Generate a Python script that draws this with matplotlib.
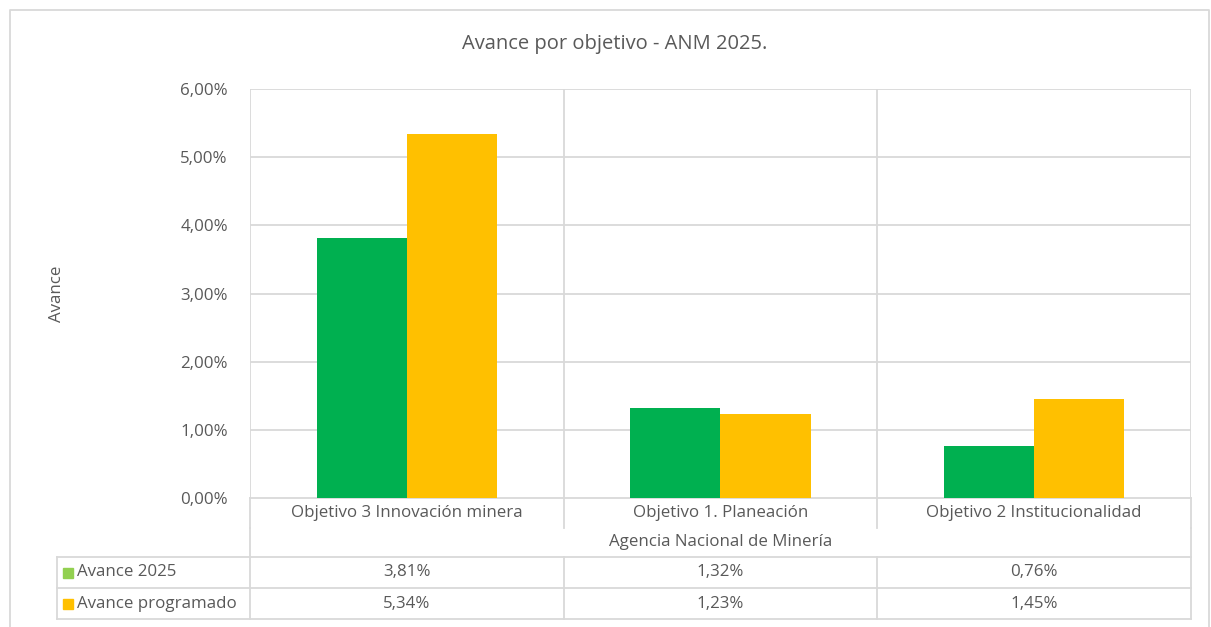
import numpy as np
import matplotlib.pyplot as plt

categorias = ['Objetivo 3 Innovación minera', 'Objetivo 1. Planeación', 'Objetivo 2 Institucionalidad']
avance_2025 = [3.81, 1.32, 0.76]
avance_programado = [5.34, 1.23, 1.45]
series = ['Avance 2025', 'Avance programado']
grupo = 'Agencia Nacional de Minería'
titulo = 'Avance por objetivo - ANM 2025.'
y_ticks = [0, 1, 2, 3, 4, 5, 6]

W, H = 1211, 627
verde = '#00B050'
verde_clave = '#92D050'
amarillo = '#FFC000'
gris = '#D9D9D9'
texto = '#595959'
fs = 12.2
plt.rcParams['font.family'] = ['Open Sans', 'DejaVu Sans']


def pct(v):
    return ('%.2f%%' % v).replace('.', ',')


fig = plt.figure(figsize=(W / 100, H / 100), dpi=100)

# overlay in pixel coordinates for the frame and data table
ov = fig.add_axes([0, 0, 1, 1])
ov.set_xlim(0, W)
ov.set_ylim(H, 0)
ov.axis('off')

# plot area in pixels
x0, x1, y_top, y_bot = 250, 1191, 89, 498
ax = fig.add_axes([x0 / W, 1 - y_bot / H, (x1 - x0) / W, (y_bot - y_top) / H])
n = len(categorias)
x = np.arange(n)
ancho = 0.287
ax.bar(x - ancho / 2, avance_2025, ancho, color=verde, zorder=3)
ax.bar(x + ancho / 2, avance_programado, ancho, color=amarillo, zorder=3)
ax.set_xlim(-0.5, n - 0.5)
ax.set_ylim(0, 6)
ax.set_yticks(y_ticks)
ax.set_yticklabels([pct(v) for v in y_ticks], color=texto, fontsize=fs)
ax.tick_params(axis='y', length=0, pad=16)
ax.set_xticks([])
ax.grid(axis='y', color=gris, linewidth=1.3, zorder=0)
for xb in np.arange(-0.5, n, 1):
    ax.axvline(xb, color=gris, linewidth=1.3, zorder=1)
for s in ax.spines.values():
    s.set_visible(False)

# outer frame
ov.plot([10, 10, 1209, 1209], [627, 10, 10, 627], color=gris, linewidth=1.3)

ov.text(615, 44, titulo, ha='center', va='center', fontsize=14.5, color=texto)
ov.text(57, 294, 'Avance', ha='center', va='center', rotation=90, fontsize=fs, color=texto)

# category row
col_w = (x1 - x0) / n
lw = 1.3
ov.plot([x0, x1], [y_bot, y_bot], color=gris, linewidth=lw)
for i in range(n + 1):
    xc = x0 + i * col_w
    ov.plot([xc, xc], [y_bot, 528], color=gris, linewidth=lw)
for i, c in enumerate(categorias):
    ov.text(x0 + (i + 0.5) * col_w, 513, c, ha='center', va='center', fontsize=fs, color=texto)
ov.plot([x0, x0], [528, 557], color=gris, linewidth=lw)
ov.plot([x1, x1], [528, 557], color=gris, linewidth=lw)
ov.text((x0 + x1) / 2, 542, grupo, ha='center', va='center', fontsize=fs, color=texto)

# data table rows
t_left = 57
filas = [557, 588, 619]
for yr in filas:
    ov.plot([t_left, x1], [yr, yr], color=gris, linewidth=lw)
for xc in [t_left] + [x0 + i * col_w for i in range(n + 1)]:
    ov.plot([xc, xc], [557, 619], color=gris, linewidth=lw)
for r, (nombre, vals, col) in enumerate(zip(series, [avance_2025, avance_programado], [verde_clave, amarillo])):
    yc = (filas[r] + filas[r + 1]) / 2
    ov.add_patch(plt.Rectangle((63, yc - 5), 10, 10, color=col))
    ov.text(77, yc, nombre, ha='left', va='center', fontsize=fs, color=texto)
    for i, v in enumerate(vals):
        ov.text(x0 + (i + 0.5) * col_w, yc, pct(v), ha='center', va='center', fontsize=fs, color=texto)

fig.savefig('out.png', dpi=100)
